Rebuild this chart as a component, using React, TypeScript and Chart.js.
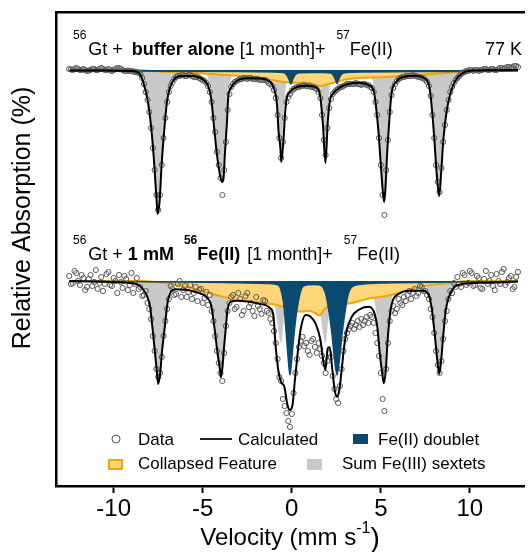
import React, { useEffect, useRef } from "react";
import { Chart, registerables } from "chart.js";

Chart.register(...registerables);

const FONT = "'Liberation Sans', Arial, Helvetica, sans-serif";

// axis ranges (velocity in mm/s, y in relative absorption units, spectra stacked)
const X_MIN = -13.24;
const X_MAX = 13.04;
const Y_MIN = -416;
const Y_MAX = 58;
const X_TICKS = [-10, -5, 0, 5, 10];

// velocity channels of the measured data
const V_START = -12.5;
const V_STEP = 0.1;

// baselines of the two stacked spectra
const TOP_OFFSET = 0;
const BOTTOM_OFFSET = -211;

const BLUE = "#0b4a70";
const YELLOW = "#ffd679";
const ORANGE = "#f2a600";
const GRAY = "#c9c9c9";

// ---------- top spectrum: 56Gt + buffer alone ----------
const TOP_DATA = [
  -1, -0.5, 0, -1, -2, -1, 0, 0, -1, 0,
  1, 0.5, 0, -1, -1, 0, 0, -1, -2, -1,
  0, 0, -1, 0, 1, 0, -1, -2, -2, -1,
  0, 1, 1, 0.5, 1, 1, 1.5, 2, 2, 3,
  4, 8, 14, 22, 30, 42, 58, 78, 100, 125,
  140, 125, 95, 68, 48, 32, 22, 16, 12, 9,
  7, 6, 6, 5, 5, 6, 6, 5, 5, 6,
  7, 7, 7, 8, 9, 10, 11, 13, 16, 22,
  32, 48, 62, 82, 95, 108, 125, 100, 72, 40,
  24, 17, 14, 12, 11, 10, 9, 9, 8, 8,
  9, 8, 8, 9, 9, 9, 9, 10, 10, 10,
  10, 11, 13, 14, 16, 20, 28, 45, 68, 88,
  72, 48, 32, 27, 24, 21, 19, 18, 17, 17,
  16, 16, 15, 16, 16, 16, 17, 17, 18, 19,
  22, 28, 45, 70, 85, 58, 38, 29, 24, 22,
  20, 19, 17, 17, 16, 15, 14, 14, 14, 14,
  14, 13, 14, 14, 15, 14, 14, 15, 15, 17,
  18, 22, 32, 45, 68, 95, 125, 145, 100, 70,
  42, 25, 18, 14, 11, 9, 8, 7, 7, 6,
  6, 6, 6, 5, 6, 6, 7, 7, 8, 8,
  10, 12, 16, 26, 45, 68, 95, 112, 122, 98,
  72, 55, 40, 30, 22, 17, 13, 10, 8, 6,
  4, 3, 2, 1, 1, 0, 0, 1, 0, 0,
  1, 0, 0, -1, -1, 0, 0, -1, -1, 0,
  0, -1, -2, -2, -1, -2, -3, -3, -2, -3,
  -4, -4, -3,
];

const TOP_CALC = [
  [-12.45, 0.5], [-10.5, 0.5], [-9.0, 1], [-8.55, 3.5], [-8.25, 18], [-8.05, 35], [-7.87, 62],
  [-7.72, 95], [-7.59, 131], [-7.53, 144], [-7.42, 131], [-7.31, 95], [-7.17, 62], [-7.03, 35],
  [-6.85, 18], [-6.57, 8.5], [-6.2, 6], [-5.6, 6], [-5.2, 7.5], [-4.95, 10], [-4.72, 15],
  [-4.53, 28], [-4.39, 52], [-4.2, 85], [-4.03, 105], [-3.92, 112], [-3.83, 108], [-3.76, 85],
  [-3.64, 52], [-3.57, 28], [-3.42, 18], [-3.14, 11.5], [-2.52, 8.3], [-1.8, 8.5], [-1.39, 10],
  [-1.02, 18], [-0.83, 35], [-0.74, 62], [-0.64, 78], [-0.59, 92], [-0.46, 68], [-0.37, 42],
  [-0.28, 28], [-0.1, 22], [0.32, 16.7], [0.87, 15.7], [1.43, 18.3], [1.61, 28], [1.75, 55],
  [1.89, 93], [2.02, 52], [2.13, 32], [2.35, 23], [2.63, 18.3], [3.09, 14.3], [3.74, 12.7],
  [4.3, 15], [4.61, 21.7], [4.72, 35], [4.87, 62], [5.0, 95], [5.13, 125], [5.19, 132],
  [5.26, 118], [5.35, 85], [5.47, 52], [5.59, 25], [5.87, 11.7], [6.33, 6.7], [6.89, 5.7],
  [7.44, 8.3], [7.72, 16.7], [7.85, 35], [8.0, 68], [8.13, 102], [8.28, 126], [8.39, 102],
  [8.52, 68], [8.69, 42], [8.93, 21.7], [9.21, 10], [9.58, 3.3], [10.13, 0.5], [12.7, 0],
];

const TOP_SEXTETS = [
  [-12.5, 0], [-9.5, 0.3], [-8.6, 1.5], [-8.3, 12], [-8.08, 30], [-7.89, 58], [-7.73, 93],
  [-7.59, 130], [-7.53, 143], [-7.42, 130], [-7.31, 93], [-7.16, 58], [-7.0, 30], [-6.8, 12],
  [-6.5, 3.5], [-6.0, 1.5], [-5.4, 1.5], [-4.9, 3], [-4.65, 10], [-4.5, 24], [-4.38, 48],
  [-4.2, 82], [-4.03, 103], [-3.92, 110], [-3.83, 106], [-3.76, 82], [-3.65, 48], [-3.57, 24],
  [-3.45, 10], [-3.2, 3.5], [-2.6, 2], [-1.6, 2.5], [-1.1, 7], [-0.9, 20], [-0.78, 45],
  [-0.66, 70], [-0.59, 88], [-0.5, 60], [-0.42, 30], [-0.3, 12], [-0.1, 5], [0.4, 3.5],
  [1.0, 3.5], [1.45, 6], [1.62, 15], [1.76, 45], [1.89, 88], [2.0, 45], [2.1, 20], [2.3, 8],
  [2.8, 4], [3.5, 3], [4.2, 4], [4.55, 10], [4.72, 28], [4.87, 56], [5.0, 90], [5.13, 120],
  [5.19, 127], [5.26, 113], [5.35, 80], [5.47, 46], [5.6, 20], [5.85, 7], [6.3, 3], [6.9, 2.5],
  [7.4, 4], [7.7, 12], [7.86, 30], [8.0, 63], [8.13, 97], [8.28, 121], [8.39, 97], [8.52, 63],
  [8.7, 36], [8.93, 17], [9.2, 7], [9.6, 2], [10.2, 0.5], [12.7, 0],
];

const TOP_COLLAPSED = [
  [-12.5, 0], [-8.8, 0], [-7.5, 1.5], [-6.3, 2.5], [-5.0, 3.5], [-3.7, 5], [-2.2, 7],
  [-1.1, 10], [-0.5, 12], [0.3, 12.7], [1.0, 13], [1.6, 16], [1.95, 14.5], [2.4, 12.5],
  [3.1, 9.3], [5.2, 7], [7.5, 4.5], [9.2, 2], [9.7, 0.5], [10.5, 0], [12.7, 0],
];

const TOP_DOUBLET = [
  [-12.5, 1], [-3.0, 1.5], [-1.0, 2], [-0.45, 2.5], [-0.28, 5], [-0.15, 9.5], [-0.05, 14],
  [0.05, 9.5], [0.18, 5], [0.35, 3], [1.0, 2.5], [1.8, 2.5], [2.2, 3], [2.36, 6], [2.46, 10],
  [2.54, 13.5], [2.62, 10], [2.72, 6], [2.9, 3], [4.0, 2], [8.0, 1.5], [12.7, 1],
];

// ---------- bottom spectrum: 56Gt + 1 mM 56Fe(II) ----------
const BOT_DATA = [
  -5, 3, 2, -10, -8, 0, 4, -6, -3, 9,
  6, -2, -6, 5, 1, -11, 8, 2, -4, 10,
  3, -7, -9, 4, 5, -3, 0, 12, -6, 1,
  7, -5, -2, 9, 4, -8, 12, 3, -3, 8,
  6, 15, 14, 10, 22, 28, 38, 55, 70, 88,
  96, 92, 76, 55, 40, 28, 18, 5, 8, 14,
  13, 3, 0, 16, 9, 5, 16, 11, 4, 18,
  12, 6, 20, 9, 8, 22, 17, 11, 24, 14,
  30, 40, 55, 70, 82, 92, 100, 72, 45, 30,
  22, 16, 14, 28, 26, 12, 18, 34, 30, 15,
  12, 26, 22, 30, 35, 16, 25, 28, 33, 19,
  20, 30, 32, 38, 42, 50, 62, 78, 96, 100,
  118, 125, 132, 140, 146, 133, 112, 92, 78, 66,
  60, 56, 65, 62, 70, 74, 60, 58, 66, 72,
  62, 68, 75, 82, 92, 80, 72, 76, 95, 108,
  118, 122, 105, 88, 70, 58, 52, 48, 45, 42,
  48, 44, 40, 46, 38, 44, 40, 36, 42, 34,
  36, 42, 52, 62, 75, 92, 118, 130, 88, 62,
  40, 30, 25, 32, 28, 18, 22, 24, 16, 20,
  14, 10, 18, 12, 8, 15, 12, 5, 6, 10,
  10, 14, 18, 28, 36, 52, 70, 84, 92, 80,
  58, 40, 30, 18, 10, 12, 2, 6, -4, 3,
  6, -8, -6, 4, 2, -10, -8, 5, 4, -5,
  -3, 7, 8, -2, -10, 3, 0, -6, 5, 9,
  -7, 0, 3, -9, -12, 4, 1, -3, -5, 8,
  6, -4, -9,
];

const BOT_CALC = [
  [-12.5, 0], [-10.5, 0.8], [-8.98, 2.3], [-8.41, 7], [-7.96, 25.7], [-7.83, 45.7], [-7.68, 72],
  [-7.57, 92], [-7.5, 103], [-7.39, 92], [-7.28, 69], [-7.13, 45.7], [-6.98, 22.3], [-6.79, 10.7],
  [-6.57, 8.3], [-5.46, 10.7], [-4.74, 17], [-4.53, 24], [-4.35, 45.7], [-4.17, 72], [-4.03, 89],
  [-3.98, 96.3], [-3.89, 85.7], [-3.8, 65.7], [-3.7, 45.7], [-3.61, 29], [-3.42, 20.7],
  [-3.06, 19.7], [-1.76, 23], [-1.2, 27.3], [-1.02, 36], [-0.93, 60], [-0.87, 72], [-0.75, 90],
  [-0.61, 100.7], [-0.42, 105.7], [-0.24, 124], [-0.11, 129], [0.04, 124], [0.17, 100],
  [0.32, 74], [0.5, 48], [0.78, 34], [1.06, 35.7], [1.33, 42.3], [1.61, 59], [1.76, 79],
  [1.89, 89], [2.02, 67.3], [2.13, 66.3], [2.26, 85.7], [2.41, 109], [2.54, 115.7], [2.67, 109],
  [2.82, 85.7], [2.94, 65.7], [3.09, 49], [3.37, 35.7], [3.74, 29], [4.3, 25.7], [4.61, 30.7],
  [4.8, 45.7], [4.94, 72.3], [5.08, 92.3], [5.17, 102.3], [5.28, 89], [5.37, 62.3], [5.5, 35.7],
  [5.65, 20.7], [5.97, 13.3], [6.61, 9.7], [7.36, 9.7], [7.69, 14], [7.87, 29], [8.04, 55.7],
  [8.17, 79], [8.28, 93], [8.39, 79], [8.5, 55.7], [8.65, 29], [8.83, 15.7], [9.11, 6.3],
  [9.58, 3], [10.87, 1.7], [12.7, 0.5],
];

const BOT_SEXTETS = [
  [-12.5, 0], [-9.0, 1], [-8.4, 3.5], [-8.0, 20], [-7.83, 40], [-7.68, 67], [-7.57, 88],
  [-7.5, 100], [-7.39, 88], [-7.28, 65], [-7.13, 42], [-6.98, 18], [-6.75, 6], [-6.3, 2.5],
  [-5.5, 2], [-4.9, 5], [-4.6, 12], [-4.38, 35], [-4.17, 65], [-4.03, 83], [-3.98, 91],
  [-3.89, 80], [-3.8, 60], [-3.7, 38], [-3.58, 17], [-3.35, 6], [-2.8, 3], [-1.6, 4],
  [-1.05, 12], [-0.85, 35], [-0.7, 55], [-0.6, 62], [-0.5, 45], [-0.35, 22], [-0.1, 8],
  [0.5, 5], [1.2, 8], [1.55, 25], [1.75, 50], [1.89, 62], [2.0, 45], [2.2, 18], [2.6, 7],
  [3.5, 4], [4.3, 6], [4.6, 15], [4.8, 40], [4.94, 66], [5.08, 86], [5.17, 96], [5.28, 82],
  [5.37, 57], [5.5, 30], [5.7, 12], [6.1, 4], [6.8, 2.5], [7.4, 4], [7.7, 12], [7.87, 27],
  [8.04, 53], [8.17, 77], [8.28, 91], [8.39, 77], [8.5, 53], [8.65, 27], [8.85, 12], [9.1, 4],
  [9.6, 1], [12.7, 0],
];

const BOT_COLLAPSED = [
  [-12.5, 0], [-8.45, 0], [-7.6, 1.2], [-6.76, 3], [-5.8, 6.5], [-4.91, 10.7], [-3.07, 19],
  [-1.41, 22.3], [-0.85, 24], [-0.3, 27], [0.2, 30], [0.5, 30.5], [1.0, 30], [1.3, 32],
  [1.55, 34.5], [1.8, 29], [2.0, 26], [2.5, 24], [3.28, 22.3], [4.39, 17.3], [5.32, 15],
  [6.24, 10.7], [7.72, 4], [9.02, 1.7], [9.4, 0.5], [10.0, 0], [12.7, 0],
];

const BOT_DOUBLET = [
  [-12.5, 0.5], [-6.0, 1], [-2.5, 2], [-1.3, 2.5], [-0.75, 4], [-0.62, 8], [-0.46, 22],
  [-0.32, 50], [-0.2, 78], [-0.1, 94], [0.0, 78], [0.1, 58], [0.22, 38], [0.35, 22], [0.5, 10],
  [0.62, 5.5], [0.9, 3.8], [1.3, 3.5], [1.6, 4], [1.8, 8], [1.95, 16], [2.1, 32], [2.25, 52],
  [2.38, 75], [2.54, 94], [2.7, 75], [2.83, 52], [2.98, 32], [3.13, 16], [3.28, 8], [3.5, 4.5],
  [4.0, 3], [5.0, 2], [9.0, 1], [12.7, 0.5],
];

// ---------- texts ----------
// g = extra gap (px) before the part, s = superscript, b = bold
type Part = { t: string; b?: boolean; s?: boolean; g?: number };
const TOP_LABEL: Part[] = [
  { t: "56", s: true }, { t: "Gt + ", g: 2 }, { t: "buffer alone", b: true, g: 4 }, { t: " [1 month]+ " },
  { t: "57", s: true, g: 6 }, { t: "Fe(II)" },
];
const BOTTOM_LABEL: Part[] = [
  { t: "56", s: true }, { t: "Gt + ", g: 2 }, { t: "1 mM ", b: true }, { t: "56", s: true, b: true, g: 5 },
  { t: "Fe(II)", b: true }, { t: " [1 month]+ ", g: 2 }, { t: "57", s: true, g: 6 }, { t: "Fe(II)" },
];
const TEMP_LABEL = "77 K";
const Y_TITLE = "Relative Absorption (%)";
const X_TITLE = "Velocity (mm s";
const LEGEND = ["Data", "Calculated", "Fe(II) doublet", "Collapsed Feature", "Sum Fe(III) sextets"];

const toPts = (arr: number[][], off: number) => arr.map(([v, d]) => ({ x: v, y: off - d }));
const toData = (arr: number[], off: number) =>
  arr.map((d, i) => ({ x: Math.round((V_START + i * V_STEP) * 100) / 100, y: off - d }));

function spectrum(off: number, calc: number[][], data: number[], doublet: number[][], collapsed: number[][], sextets: number[][]) {
  return [
    {
      type: "line", data: toPts(calc, off), borderColor: "#000", borderWidth: 2, pointRadius: 0,
      fill: false, cubicInterpolationMode: "monotone", order: 0,
    },
    {
      type: "line", data: toData(data, off), showLine: false, pointRadius: 2.6, pointBorderWidth: 1,
      pointBorderColor: "#5a5a5a", pointBackgroundColor: "rgba(255,255,255,0)", order: 1,
    },
    {
      type: "line", data: toPts(doublet, off), borderColor: BLUE, backgroundColor: BLUE, borderWidth: 1.5,
      pointRadius: 0, fill: { value: off }, cubicInterpolationMode: "monotone", order: 2,
    },
    {
      type: "line", data: toPts(collapsed, off), borderColor: ORANGE, backgroundColor: YELLOW, borderWidth: 2,
      pointRadius: 0, fill: { value: off }, cubicInterpolationMode: "monotone", order: 3,
    },
    {
      type: "line", data: toPts(sextets, off), borderColor: GRAY, backgroundColor: GRAY, borderWidth: 0.5,
      pointRadius: 0, fill: { value: off }, cubicInterpolationMode: "monotone", order: 4,
    },
  ];
}

function drawRich(ctx: CanvasRenderingContext2D, x: number, y: number, parts: Part[], size: number, supSize: number, rise: number) {
  let cx = x;
  for (const p of parts) {
    const fs = p.s ? supSize : size;
    cx += p.g || 0;
    ctx.font = `${p.b ? "bold " : ""}${fs}px ${FONT}`;
    ctx.fillText(p.t, cx, p.s ? y - rise : y);
    cx += ctx.measureText(p.t).width;
  }
}

const decorPlugin = {
  id: "decor",
  afterDraw(chart: any) {
    const ctx: CanvasRenderingContext2D = chart.ctx;
    ctx.save();
    ctx.fillStyle = "#000";
    ctx.textBaseline = "alphabetic";
    ctx.textAlign = "left";

    // spectrum labels
    drawRich(ctx, 73, 55, TOP_LABEL, 18, 12, 16);
    drawRich(ctx, 73, 260, BOTTOM_LABEL, 18, 12, 16);
    ctx.font = `18px ${FONT}`;
    ctx.textAlign = "right";
    ctx.fillText(TEMP_LABEL, 522, 55);
    ctx.textAlign = "left";

    // y title
    ctx.save();
    ctx.translate(23, 218);
    ctx.rotate(-Math.PI / 2);
    ctx.textAlign = "center";
    ctx.textBaseline = "middle";
    ctx.font = `25px ${FONT}`;
    ctx.fillText(Y_TITLE, 0, 0);
    ctx.restore();

    // x title with superscript
    ctx.font = `24px ${FONT}`;
    const w1 = ctx.measureText(X_TITLE).width;
    ctx.font = `16px ${FONT}`;
    const w2 = ctx.measureText("-1").width;
    ctx.font = `28px ${FONT}`;
    const w3 = ctx.measureText(")").width;
    let sx = 290 - (w1 + w2 + w3) / 2;
    ctx.font = `24px ${FONT}`;
    ctx.fillText(X_TITLE, sx, 545);
    sx += w1;
    ctx.font = `16px ${FONT}`;
    ctx.fillText("-1", sx, 533);
    sx += w2;
    ctx.font = `28px ${FONT}`;
    ctx.fillText(")", sx, 547);

    // legend
    ctx.font = `17px ${FONT}`;
    ctx.beginPath();
    ctx.arc(116, 439, 4, 0, Math.PI * 2);
    ctx.strokeStyle = "#555";
    ctx.lineWidth = 1;
    ctx.stroke();
    ctx.fillText(LEGEND[0], 138, 445);
    ctx.beginPath();
    ctx.moveTo(200, 439);
    ctx.lineTo(232, 439);
    ctx.strokeStyle = "#222";
    ctx.lineWidth = 2;
    ctx.stroke();
    ctx.fillText(LEGEND[1], 238, 445);
    ctx.fillStyle = BLUE;
    ctx.fillRect(353, 434, 15, 10);
    ctx.fillStyle = "#000";
    ctx.fillText(LEGEND[2], 378, 445);

    ctx.fillStyle = YELLOW;
    ctx.fillRect(109, 460, 13, 9);
    ctx.strokeStyle = ORANGE;
    ctx.lineWidth = 2;
    ctx.strokeRect(109, 460, 13, 9);
    ctx.fillStyle = "#000";
    ctx.fillText(LEGEND[3], 138, 469);
    ctx.fillStyle = GRAY;
    ctx.fillRect(307, 459, 15, 11);
    ctx.fillStyle = "#000";
    ctx.fillText(LEGEND[4], 342, 469);
    ctx.restore();
  },
};

export default function App() {
  const ref = useRef<HTMLCanvasElement>(null);
  useEffect(() => {
    document.body.style.margin = "0";
    const canvas = ref.current;
    if (!canvas) return;
    Chart.defaults.font.family = FONT;
    const datasets: any[] = [
      ...spectrum(TOP_OFFSET, TOP_CALC, TOP_DATA, TOP_DOUBLET, TOP_COLLAPSED, TOP_SEXTETS),
      ...spectrum(BOTTOM_OFFSET, BOT_CALC, BOT_DATA, BOT_DOUBLET, BOT_COLLAPSED, BOT_SEXTETS),
    ];
    const frame = { display: true, color: "#000", width: 2.5 };
    const chart = new Chart(canvas, {
      type: "line",
      data: { datasets },
      options: {
        animation: false,
        responsive: false,
        maintainAspectRatio: false,
        events: [],
        layout: { padding: 0 },
        plugins: { legend: { display: false }, tooltip: { enabled: false } },
        scales: {
          x: {
            type: "linear",
            position: "bottom",
            min: X_MIN,
            max: X_MAX,
            afterBuildTicks: (s: any) => { s.ticks = X_TICKS.map((value) => ({ value })); },
            afterFit: (s: any) => { s.height = 66; },
            grid: { display: true, drawOnChartArea: false, drawTicks: true, tickLength: 7, tickWidth: 2, tickColor: "#000" },
            border: frame,
            ticks: { color: "#000", font: { family: FONT, size: 24 }, padding: 2, maxRotation: 0, autoSkip: false },
          },
          x2: {
            type: "linear",
            position: "top",
            min: X_MIN,
            max: X_MAX,
            display: true,
            afterFit: (s: any) => { s.height = 12; },
            grid: { display: false },
            ticks: { display: false },
            border: frame,
          },
          y: {
            type: "linear",
            position: "left",
            min: Y_MIN,
            max: Y_MAX,
            afterFit: (s: any) => { s.width = 56; },
            grid: { display: false },
            ticks: { display: false },
            border: frame,
          },
        },
      } as any,
      plugins: [decorPlugin],
    } as any);
    return () => chart.destroy();
  }, []);
  return <canvas ref={ref} width={529} height={552} style={{ display: "block", width: 529, height: 552 }} />;
}
